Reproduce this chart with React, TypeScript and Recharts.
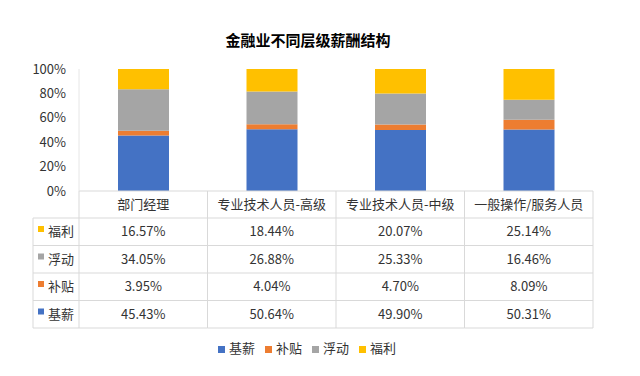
import React from "react";
import { BarChart, Bar, XAxis, YAxis, Legend } from "recharts";

const categories = ["部门经理", "专业技术人员-高级", "专业技术人员-中级", "一般操作/服务人员"];
const baseSalary = [45.43, 50.64, 49.9, 50.31];
const allowance = [3.95, 4.04, 4.7, 8.09];
const floating = [34.05, 26.88, 25.33, 16.46];
const welfare = [16.57, 18.44, 20.07, 25.14];
const yTicks = [0, 20, 40, 60, 80, 100];

const series = [
  { key: "基薪", values: baseSalary, color: "#4472C4" },
  { key: "补贴", values: allowance, color: "#ED7D31" },
  { key: "浮动", values: floating, color: "#A5A5A5" },
  { key: "福利", values: welfare, color: "#FFC000" },
];

const data = categories.map((name, i) => {
  const row: Record<string, string | number> = { name };
  series.forEach((s) => (row[s.key] = s.values[i]));
  return row;
});

// table rows go top-down from the last series
const tableRows = [...series].reverse();

const FONT = "'Noto Sans CJK SC', 'Noto Sans', sans-serif";
const TEXT = "#333333";
const GRID = "#D9D9D9";
const MARGIN = { top: 69, right: 47, bottom: 18, left: 0 };
const Y_WIDTH = 79;
const COL_W = (640 - MARGIN.right - Y_WIDTH) / categories.length;
const LABEL_LEFT = 33;
const HEADER_H = 27;
const ROW_H = 27.5;

const TableColumn = (props: any) => {
  const { x, y, payload } = props;
  const i = payload.index;
  const left = x - COL_W / 2;
  const right = x + COL_W / 2;
  const bottom = y + HEADER_H + ROW_H * tableRows.length;
  const rowY = (k: number) => y + HEADER_H + ROW_H * k;

  return (
    <g fontFamily={FONT} fontSize={13} fill={TEXT}>
      <text x={x} y={y + HEADER_H / 2} dy="0.35em" textAnchor="middle" fill={TEXT}>
        {payload.value}
      </text>
      {i === 0 && <line x1={left} x2={left} y1={y} y2={bottom} stroke={GRID} />}
      <line x1={right} x2={right} y1={y} y2={bottom} stroke={GRID} />
      {tableRows.map((_, k) => (
        <line key={"h" + k} x1={left} x2={right} y1={rowY(k)} y2={rowY(k)} stroke={GRID} />
      ))}
      <line x1={left} x2={right} y1={bottom} y2={bottom} stroke={GRID} />
      {tableRows.map((s, k) => (
        <text
          key={"v" + k}
          x={x}
          y={rowY(k) + ROW_H / 2}
          dy="0.35em"
          textAnchor="middle"
          fill={TEXT}
        >
          {s.values[i].toFixed(2) + "%"}
        </text>
      ))}
      {i === 0 && (
        <g>
          <line x1={LABEL_LEFT} x2={LABEL_LEFT} y1={rowY(0)} y2={bottom} stroke={GRID} />
          {tableRows.map((s, k) => (
            <g key={"l" + k}>
              <line x1={LABEL_LEFT} x2={left} y1={rowY(k)} y2={rowY(k)} stroke={GRID} />
              <rect x={LABEL_LEFT + 5} y={rowY(k) + 8} width={6} height={6} fill={s.color} />
              <text x={LABEL_LEFT + 15} y={rowY(k) + ROW_H / 2} dy="0.35em" fill={TEXT}>
                {s.key}
              </text>
            </g>
          ))}
          <line x1={LABEL_LEFT} x2={left} y1={bottom} y2={bottom} stroke={GRID} />
        </g>
      )}
    </g>
  );
};

const legendOrder = (item: any) => series.findIndex((s) => s.key === item.value);

export default function App() {
  return (
    <div style={{ position: "absolute", left: 0, top: 0, width: 640, height: 376, background: "#fff" }}>
      <div
        style={{
          position: "absolute",
          left: 0,
          top: 30,
          width: 616,
          textAlign: "center",
          fontFamily: FONT,
          fontWeight: 700,
          fontSize: 15,
          lineHeight: "20px",
          color: "#000",
        }}
      >
        金融业不同层级薪酬结构
      </div>
      <BarChart width={640} height={376} data={data} margin={MARGIN}>
        <XAxis
          dataKey="name"
          axisLine={{ stroke: GRID }}
          tickLine={false}
          tickSize={0}
          tickMargin={0}
          height={147}
          interval={0}
          tick={<TableColumn />}
        />
        <YAxis
          width={Y_WIDTH}
          domain={[0, 100]}
          ticks={yTicks}
          axisLine={{ stroke: "#E6E6E6" }}
          tickLine={false}
          tickMargin={7}
          tickFormatter={(v: number) => v + "%"}
          tick={{ fill: TEXT, fontSize: 13, fontFamily: FONT }}
        />
        {series.map((s) => (
          <Bar
            key={s.key}
            dataKey={s.key}
            stackId="a"
            fill={s.color}
            barSize={51}
            isAnimationActive={false}
          />
        ))}
        <Legend
          verticalAlign="bottom"
          iconType="square"
          iconSize={7}
          itemSorter={legendOrder}
          wrapperStyle={{ fontFamily: FONT, fontSize: 13, lineHeight: "20px", left: 0, width: 624 }}
          formatter={(value: string) => <span style={{ color: TEXT }}>{value}</span>}
        />
      </BarChart>
    </div>
  );
}
